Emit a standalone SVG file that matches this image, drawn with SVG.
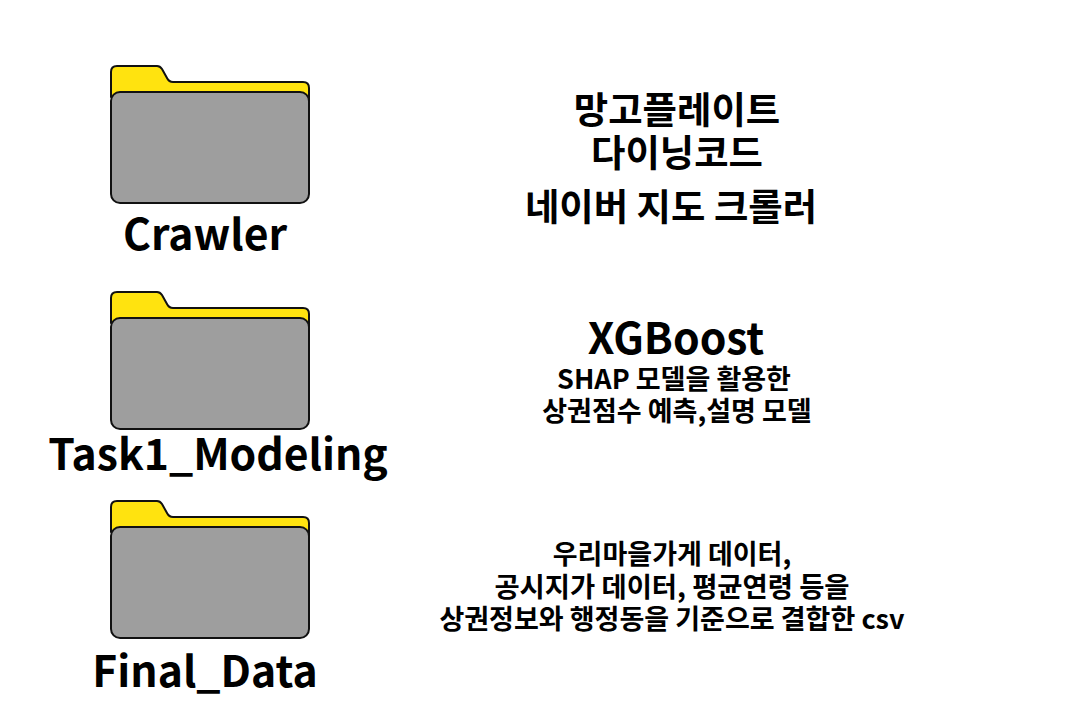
<svg xmlns="http://www.w3.org/2000/svg" width="1080" height="720" viewBox="0 0 1080 720">
<style>
text{font-family:"Noto Sans CJK KR","Noto Sans",sans-serif;font-weight:700;text-anchor:middle;fill:#000}
.f{fill:#ffe30f;stroke:#111;stroke-width:2;stroke-linejoin:round}
.b{fill:#9e9e9e;stroke:#111;stroke-width:2}
.n{font-size:42.7px}.t{font-size:37.4px}.m{font-size:27px}
</style>
<defs><g id="folder"><path class="f" d="M111 97V72q0-6 6-6h40q3 0 5 3l5 9q2 4 6 4h130q6 0 6 6v13z"/><rect class="b" x="111" y="92" width="198" height="111" rx="9"/></g></defs>
<rect width="1080" height="720" fill="#fff"/>
<g id="crawler"><use href="#folder"/><text class="n" x="205" y="250">Crawler</text></g>
<g id="task1"><use href="#folder" y="226"/><text class="n" x="218" y="470">Task1_Modeling</text></g>
<g id="final"><use href="#folder" y="435"/><text class="n" x="205" y="687">Final_Data</text></g>
<g id="connectors"/>
<text class="t" x="677" y="124">망고플레이트</text>
<text class="t" x="677" y="167">다이닝코드</text>
<text class="t" x="671" y="221">네이버 지도 크롤러</text>
<text x="676" y="354" font-size="42.7">XGBoost</text>
<text class="m" x="674" y="389">SHAP 모델을 활용한</text>
<text class="m" x="677" y="421">상권점수 예측,설명 모델</text>
<text class="m" x="672" y="564">우리마을가게 데이터,</text>
<text class="m" x="672" y="597" style="font-size:27.4px">공시지가 데이터, 평균연령 등을</text>
<text class="m" x="672" y="629">상권정보와 행정동을 기준으로 결합한 csv</text>
</svg>
